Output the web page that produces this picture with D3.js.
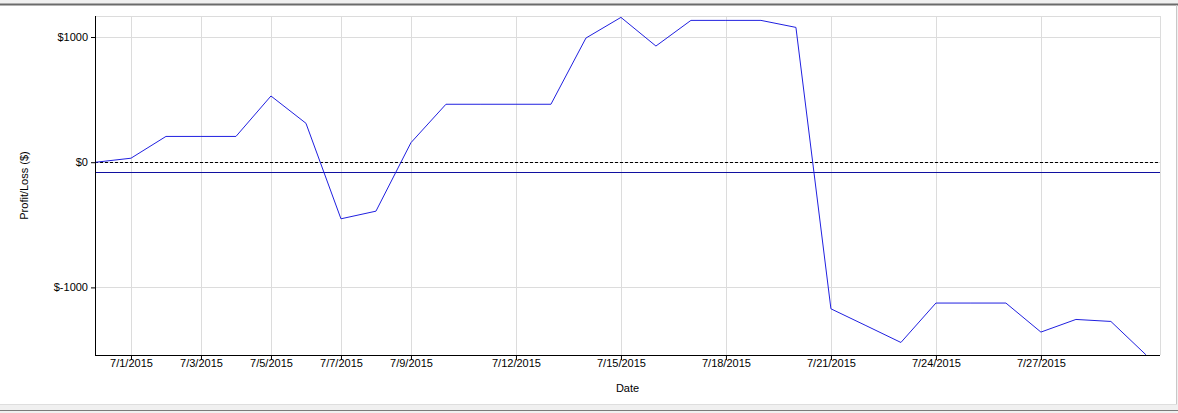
<!DOCTYPE html>
<html>
<head>
<meta charset="utf-8">
<script src="https://cdn.jsdelivr.net/npm/d3@7"></script>
<style>
  html, body { margin: 0; padding: 0; background: #f0f0f0; }
  svg { display: block; }
  text { font-family: "Liberation Sans", Arial, sans-serif; }
</style>
</head>
<body>
<svg id="chart" width="1178" height="413"></svg>
<script>
// ---- data ----
const dates = [
  "2015-06-30","2015-07-01","2015-07-02","2015-07-03","2015-07-04","2015-07-05",
  "2015-07-06","2015-07-07","2015-07-08","2015-07-09","2015-07-10","2015-07-11",
  "2015-07-12","2015-07-13","2015-07-14","2015-07-15","2015-07-16","2015-07-17",
  "2015-07-18","2015-07-19","2015-07-20","2015-07-21","2015-07-22","2015-07-23",
  "2015-07-24","2015-07-25","2015-07-26","2015-07-27","2015-07-28","2015-07-29",
  "2015-07-30"
];
const profitLoss = [
  0, 32, 206, 206, 206, 529,
  311, -452, -391, 156, 463, 463,
  463, 463, 992, 1157, 928, 1133,
  1133, 1133, 1077, -1171, -1305, -1440,
  -1125, -1125, -1125, -1357, -1256, -1272,
  -1538
];
const xTickDates = ["2015-07-01","2015-07-03","2015-07-05","2015-07-07","2015-07-09",
  "2015-07-12","2015-07-15","2015-07-18","2015-07-21","2015-07-24","2015-07-27"];
const yTicks = [1000, 0, -1000];
const yDomain = [-1540, 1168];
const xAxisTitle = "Date";
const yAxisTitle = "Profit/Loss ($)";

(function () {
const parse = d3.timeParse("%Y-%m-%d");
const data = dates.map((d, i) => ({ date: parse(d), value: profitLoss[i] }));
const meanValue = d3.mean(profitLoss);

const svg = d3.select("#chart");
const pL = 95, pR = 1160, pT = 16, pB = 355;

// window frame
svg.append("rect").attr("x", 0).attr("y", 0).attr("width", 1178).attr("height", 413).attr("fill", "#f0f0f0");
svg.append("rect").attr("x", 0).attr("y", 5).attr("width", 1176).attr("height", 399).attr("fill", "#ffffff");
svg.append("line").attr("x1", 0).attr("x2", 1178).attr("y1", 4.5).attr("y2", 4.5).attr("stroke", "#6b6b6b").attr("stroke-width", 2);
svg.append("line").attr("x1", 1176.5).attr("x2", 1176.5).attr("y1", 5).attr("y2", 404).attr("stroke", "#c8c8c8");
svg.append("line").attr("x1", 0).attr("x2", 1177).attr("y1", 404.5).attr("y2", 404.5).attr("stroke", "#dedede");
svg.append("line").attr("x1", 0).attr("x2", 1178).attr("y1", 410.5).attr("y2", 410.5).attr("stroke", "#7a7a7a");

const day0 = parse("2015-06-30");
const x = d3.scaleTime()
  .domain([d3.timeMinute.offset(day0, -40), d3.timeMinute.offset(parse("2015-07-30"), 580)])
  .range([pL, pR]);
const y = d3.scaleLinear().domain(yDomain).range([pB, pT]);

// gridlines
const grid = svg.append("g").attr("stroke", "#dcdcdc").attr("stroke-width", 1);
xTickDates.forEach(d => {
  const px = Math.round(x(parse(d))) + 0.5;
  grid.append("line").attr("x1", px).attr("x2", px).attr("y1", pT).attr("y2", pB);
});
yTicks.forEach(v => {
  const py = Math.round(y(v)) + 0.5;
  grid.append("line").attr("x1", pL).attr("x2", pR).attr("y1", py).attr("y2", py);
});
grid.append("line").attr("x1", pL).attr("x2", pR).attr("y1", pT + 0.5).attr("y2", pT + 0.5);
grid.append("line").attr("x1", pR + 0.5).attr("x2", pR + 0.5).attr("y1", pT).attr("y2", pB);

// zero dashed line
svg.append("line")
  .attr("x1", pL).attr("x2", pR)
  .attr("y1", Math.round(y(0)) + 0.5).attr("y2", Math.round(y(0)) + 0.5)
  .attr("stroke", "#000").attr("stroke-dasharray", "3,2").attr("stroke-width", 1);

// mean line
svg.append("line")
  .attr("x1", pL).attr("x2", pR)
  .attr("y1", Math.round(y(meanValue)) + 0.5).attr("y2", Math.round(y(meanValue)) + 0.5)
  .attr("stroke", "#1010a0").attr("stroke-width", 1.2);

// data line
const line = d3.line().x(d => x(d.date)).y(d => y(d.value));
svg.append("path").datum(data)
  .attr("d", line)
  .attr("fill", "none")
  .attr("stroke", "#2020e0")
  .attr("stroke-width", 1);

// axes
const xAxis = d3.axisBottom(x)
  .tickValues(xTickDates.map(parse))
  .tickFormat(d => (d.getMonth() + 1) + "/" + d.getDate() + "/" + d.getFullYear())
  .tickSize(5).tickSizeOuter(0);
const gx = svg.append("g").attr("transform", `translate(0,${pB})`).call(xAxis);
gx.select(".domain").attr("stroke", "#000").attr("d", `M${pL},0.5H${pR}`);
gx.selectAll(".tick line").attr("stroke", "#000");
gx.selectAll(".tick text").attr("font-size", 11).attr("fill", "#000").attr("dy", "0.6em").attr("y", 5);

const yAxis = d3.axisLeft(y)
  .tickValues(yTicks)
  .tickFormat(v => "$" + v)
  .tickSize(4).tickSizeOuter(0);
const gy = svg.append("g").attr("transform", `translate(${pL},0)`).call(yAxis);
gy.select(".domain").attr("stroke", "#000").attr("d", `M0.5,${pT}V${pB}`);
gy.selectAll(".tick line").attr("stroke", "#000");
gy.selectAll(".tick text").attr("font-size", 11).attr("fill", "#000").attr("x", -7);

// axis titles
svg.append("text")
  .attr("x", (pL + pR) / 2).attr("y", 392)
  .attr("text-anchor", "middle").attr("font-size", 11).attr("fill", "#000")
  .text(xAxisTitle);
svg.append("text")
  .attr("transform", `translate(28,${(pT + pB) / 2}) rotate(-90)`)
  .attr("text-anchor", "middle").attr("font-size", 11).attr("fill", "#000")
  .text(yAxisTitle);
})();
</script>
</body>
</html>
